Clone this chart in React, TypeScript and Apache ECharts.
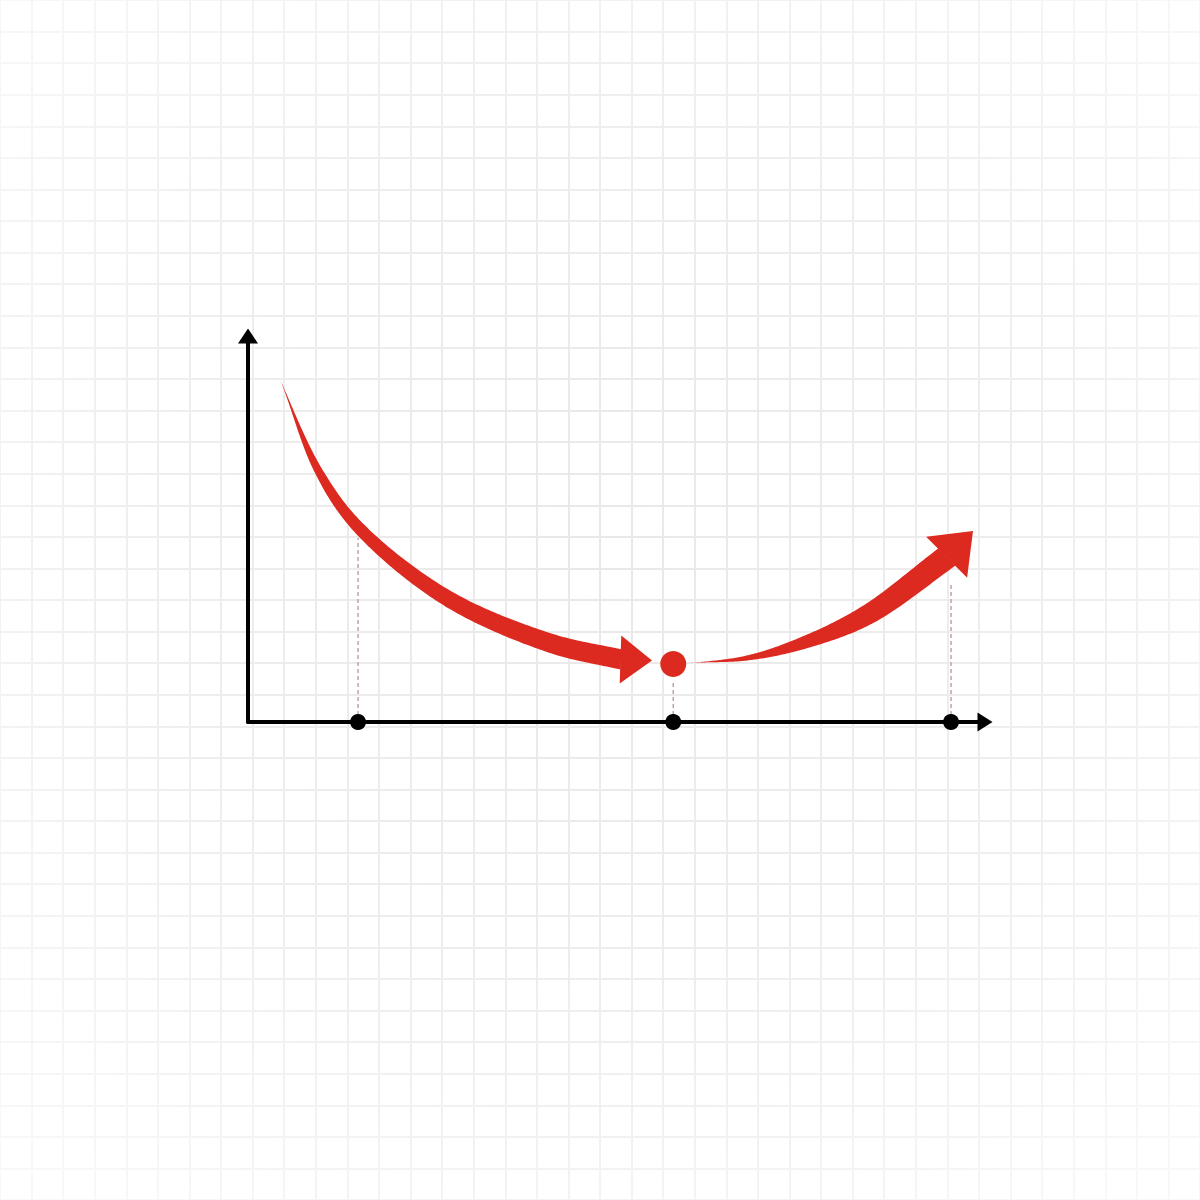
import React, { useEffect, useRef } from "react";
import * as echarts from "echarts";

// ---- data (chart units: x 0..100, y 0..100) ----
const descX = [4.34, 9.5, 14.93, 27.0, 40.98, 50.61];
const descY = [88.86, 65.28, 50.52, 32.12, 20.47, 16.19];
const descTip = [54.82, 15.93];

const riseX = [60.11, 67.71, 74.9, 83.99, 94.84];
const riseY = [15.28, 16.58, 20.21, 27.72, 42.75];
const riseTip = [98.37, 49.48];

const minPoint = [57.7, 15.03];

const axisDotsX = [14.93, 57.7, 95.39];
const guideTop = [47.67, 10.88, 35.49];

// ---- styles ----
const descTaper = [0, 8, 12, 16, 19, 20];
const riseTaper = [0, 5, 12, 20, 24];
const RED = "#dd2a20";

type P = [number, number];

function centripetal(pts: P[], steps: number) {
  const n = pts.length;
  const ext: P[] = [
    [2 * pts[0][0] - pts[1][0], 2 * pts[0][1] - pts[1][1]],
    ...pts,
    [2 * pts[n - 1][0] - pts[n - 2][0], 2 * pts[n - 1][1] - pts[n - 2][1]],
  ];
  const out: { p: P; seg: number; t: number }[] = [];
  const d = (a: P, b: P) => Math.max(1e-6, Math.pow(Math.hypot(b[0] - a[0], b[1] - a[1]), 0.5));
  const lerp = (a: P, b: P, ta: number, tb: number, t: number): P => {
    const k = (t - ta) / (tb - ta);
    return [a[0] + (b[0] - a[0]) * k, a[1] + (b[1] - a[1]) * k];
  };
  for (let i = 0; i < n - 1; i++) {
    const P0 = ext[i], P1 = ext[i + 1], P2 = ext[i + 2], P3 = ext[i + 3];
    const t0 = 0;
    const t1 = t0 + d(P0, P1);
    const t2 = t1 + d(P1, P2);
    const t3 = t2 + d(P2, P3);
    for (let s = 0; s < steps; s++) {
      const u = s / steps;
      const t = t1 + (t2 - t1) * u;
      const A1 = lerp(P0, P1, t0, t1, t);
      const A2 = lerp(P1, P2, t1, t2, t);
      const A3 = lerp(P2, P3, t2, t3, t);
      const B1 = lerp(A1, A2, t0, t2, t);
      const B2 = lerp(A2, A3, t1, t3, t);
      const C = lerp(B1, B2, t1, t2, t);
      out.push({ p: C, seg: i, t: u });
    }
  }
  out.push({ p: pts[n - 1], seg: n - 2, t: 1 });
  return out;
}

function smoothWidth(ws: number[], seg: number, u: number) {
  const n = ws.length;
  const a = ws[Math.max(0, seg - 1)];
  const b = ws[seg];
  const c = ws[Math.min(n - 1, seg + 1)];
  const d = ws[Math.min(n - 1, seg + 2)];
  const u2 = u * u;
  const u3 = u2 * u;
  const v = 0.5 * (2 * b + (-a + c) * u + (2 * a - 5 * b + 4 * c - d) * u2 + (-a + 3 * b - 3 * c + d) * u3);
  return Math.max(0, v);
}

function buildArrow(api: any, xs: number[], ys: number[], widths: number[], tip: number[], headHalf: number) {
  const pts: P[] = xs.map((x, i) => api.coord([x, ys[i]]) as P);
  const tipPx = api.coord(tip) as P;
  const raw = centripetal(pts, 40);
  const samples = raw.map((r) => ({ p: r.p, w: smoothWidth(widths, r.seg, r.t) }));
  const last = pts[pts.length - 1];

  let hdx = tipPx[0] - last[0];
  let hdy = tipPx[1] - last[1];
  const hl = Math.hypot(hdx, hdy) || 1;
  hdx /= hl;
  hdy /= hl;

  const left: P[] = [];
  const right: P[] = [];
  for (let i = 0; i < samples.length; i++) {
    let tx: number, ty: number;
    if (i === samples.length - 1) {
      tx = hdx;
      ty = hdy;
    } else {
      const a = samples[Math.max(0, i - 1)].p;
      const b = samples[Math.min(samples.length - 1, i + 1)].p;
      tx = b[0] - a[0];
      ty = b[1] - a[1];
      const l = Math.hypot(tx, ty) || 1;
      tx /= l;
      ty /= l;
    }
    const nx = -ty;
    const ny = tx;
    const h = samples[i].w / 2;
    const p = samples[i].p;
    left.push([p[0] + nx * h, p[1] + ny * h]);
    right.push([p[0] - nx * h, p[1] - ny * h]);
  }
  const shaft = left.concat(right.reverse());
  const nx = -hdy;
  const ny = hdx;
  const base: P = [last[0] - hdx * 0.5, last[1] - hdy * 0.5];
  const head: P[] = [
    [base[0] + nx * headHalf, base[1] + ny * headHalf],
    tipPx,
    [base[0] - nx * headHalf, base[1] - ny * headHalf],
  ];
  return {
    type: "group",
    children: [
      { type: "polygon", shape: { points: shaft }, style: { fill: RED } },
      { type: "polygon", shape: { points: head }, style: { fill: RED } },
    ],
  };
}

export default function App() {
  const ref = useRef<HTMLDivElement>(null);
  useEffect(() => {
    if (!ref.current) return;
    const chart = echarts.init(ref.current, null, { renderer: "svg", width: 1200, height: 1200 });
    const gridLineColor = {
      type: "radial",
      x: 600,
      y: 560,
      r: 820,
      global: true,
      colorStops: [
        { offset: 0, color: "#e8e8e8" },
        { offset: 0.55, color: "#eeeeee" },
        { offset: 1, color: "#f8f8f8" },
      ],
    };
    const hiddenAxis = {
      axisTick: { show: false },
      axisLabel: { show: false },
      splitLine: { show: false },
    };
    const bgAxis = {
      type: "value",
      gridIndex: 1,
      min: 0,
      max: 1216,
      interval: 32,
      z: 0,
      axisLine: { show: false },
      axisTick: { show: false },
      axisLabel: { show: false },
      splitLine: { show: true, lineStyle: { color: gridLineColor, width: 2 } },
    };
    const option: any = {
      animation: false,
      backgroundColor: "#ffffff",
      grid: [
        { left: 248, top: 336, width: 737, height: 386 },
        { left: -1, top: -1, width: 1212, height: 1212 },
      ],
      xAxis: [
        {
          type: "value",
          gridIndex: 0,
          min: 0,
          max: 100,
          z: 1,
          axisLine: {
            show: true,
            symbol: ["none", "triangle"],
            symbolSize: [19, 15],
            lineStyle: { color: "#000", width: 4 },
          },
          ...hiddenAxis,
        },
        bgAxis,
      ],
      yAxis: [
        {
          type: "value",
          gridIndex: 0,
          min: 0,
          max: 100,
          z: 1,
          axisLine: {
            show: true,
            symbol: ["none", "triangle"],
            symbolSize: [20, 15],
            lineStyle: { color: "#000", width: 4 },
          },
          ...hiddenAxis,
        },
        bgAxis,
      ],
      series: [
        {
          type: "custom",
          name: "guides",
          xAxisIndex: 0,
          yAxisIndex: 0,
          z: 2,
          clip: false,
          data: axisDotsX.map((x, i) => [x, guideTop[i]]),
          renderItem: (params: any, api: any) => {
            const x = api.value(0);
            const top = api.coord([x, api.value(1)]);
            const bot = api.coord([x, 0]);
            return {
              type: "line",
              shape: { x1: bot[0], y1: bot[1], x2: top[0], y2: top[1] },
              style: { stroke: "#bfa3a8", lineWidth: 1.5, lineDash: [4, 3] },
            };
          },
        },
        {
          type: "custom",
          name: "falling",
          xAxisIndex: 0,
          yAxisIndex: 0,
          z: 3,
          clip: false,
          data: descX.map((x, i) => [x, descY[i]]),
          renderItem: (params: any, api: any) => {
            if (params.dataIndex !== 0) return null;
            return buildArrow(api, descX, descY, descTaper, descTip, 24);
          },
        },
        {
          type: "custom",
          name: "rising",
          xAxisIndex: 0,
          yAxisIndex: 0,
          z: 3,
          clip: false,
          data: riseX.map((x, i) => [x, riseY[i]]),
          renderItem: (params: any, api: any) => {
            if (params.dataIndex !== 0) return null;
            return buildArrow(api, riseX, riseY, riseTaper, riseTip, 29);
          },
        },
        {
          type: "scatter",
          name: "minimum",
          xAxisIndex: 0,
          yAxisIndex: 0,
          z: 4,
          symbolSize: 26,
          itemStyle: { color: RED, opacity: 1 },
          data: [minPoint],
        },
        {
          type: "scatter",
          name: "axisDots",
          xAxisIndex: 0,
          yAxisIndex: 0,
          z: 4,
          symbolSize: 16,
          clip: false,
          itemStyle: { color: "#000", opacity: 1 },
          data: axisDotsX.map((x) => [x, 0]),
        },
      ],
    };
    chart.setOption(option);
    return () => chart.dispose();
  }, []);
  return (
    <div
      ref={ref}
      style={{ position: "absolute", left: 0, top: 0, width: 1200, height: 1200, background: "#fff" }}
    />
  );
}
